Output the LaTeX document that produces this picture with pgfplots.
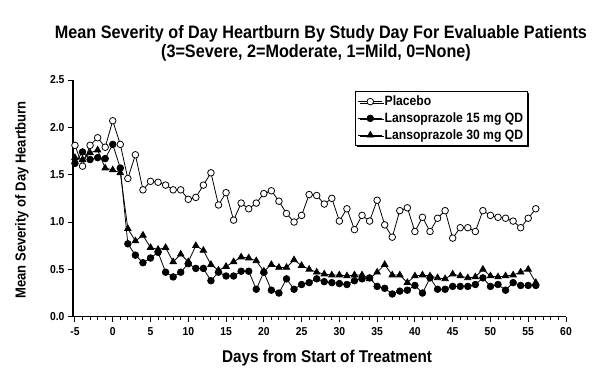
\documentclass[border=0pt]{standalone}
\usepackage{fontspec}
\setmainfont{Liberation Sans}[FakeStretch=0.9]
\usepackage{pgfplots}
\usepackage{pgfplotstable}
\pgfplotsset{compat=1.18}
\usetikzlibrary{shadows}

\pgfplotstableread{
day pla l15 l30
-5 1.81 1.62 1.68
-4 1.59 1.74 1.66
-3 1.81 1.66 1.73
-2 1.89 1.68 1.76
-1 1.79 1.67 1.57
0 2.07 1.82 1.55
1 1.82 1.57 1.52
2 1.46 0.77 0.93
3 1.71 0.65 0.80
4 1.34 0.57 0.86
5 1.43 0.62 0.73
6 1.42 0.68 0.71
7 1.39 0.47 0.73
8 1.34 0.42 0.58
9 1.34 0.47 0.66
10 1.24 0.56 0.58
11 1.26 0.51 0.75
12 1.39 0.51 0.70
13 1.52 0.38 0.55
14 1.18 0.47 0.49
15 1.31 0.43 0.53
16 1.02 0.43 0.58
17 1.20 0.48 0.63
18 1.14 0.48 0.62
19 1.20 0.29 0.59
20 1.30 0.47 0.48
21 1.33 0.28 0.55
22 1.22 0.25 0.52
23 1.09 0.40 0.52
24 1.00 0.29 0.60
25 1.07 0.34 0.54
26 1.29 0.36 0.50
27 1.28 0.40 0.47
28 1.19 0.37 0.45
29 1.25 0.36 0.44
30 1.01 0.35 0.44
31 1.14 0.34 0.43
32 0.92 0.38 0.44
33 1.07 0.40 0.44
34 1.01 0.41 0.40
35 1.23 0.32 0.47
36 0.97 0.30 0.55
37 0.84 0.24 0.44
38 1.12 0.27 0.44
39 1.15 0.28 0.36
40 0.90 0.33 0.43
41 1.05 0.25 0.44
42 0.90 0.41 0.43
43 1.04 0.29 0.41
44 1.12 0.29 0.40
45 0.83 0.32 0.45
46 0.94 0.32 0.43
47 0.94 0.32 0.41
48 0.90 0.34 0.42
49 1.12 0.41 0.50
50 1.07 0.32 0.43
51 1.05 0.34 0.42
52 1.04 0.28 0.43
53 1.01 0.36 0.44
54 0.94 0.33 0.47
55 1.04 0.33 0.50
56 1.14 0.33 0.36
}\datatable

\begin{document}
\begin{tikzpicture}
\begin{axis}[
  name=ax, at={(0,0)}, anchor=south west,
  scale only axis, width=493pt, height=236.7pt,
  xmin=-5.26, xmax=60, ymin=0, ymax=2.5,
  axis x line*=bottom, axis y line*=left,
  axis line style={line width=1.4pt},
  xtick={-5,0,...,60}, minor xtick={-5,-4,...,60},
  ytick={0,0.5,...,2.5},
  tick align=outside, major tick length=5pt, minor tick length=3.5pt,
  every tick/.style={line width=1pt, black},
  /pgf/number format/assume math mode=true,
  yticklabel style={/pgf/number format/.cd, fixed, fixed zerofill, precision=1},
  ticklabel style={font=\bfseries\fontsize{11.5}{13}\selectfont},
  xticklabel style={yshift=-2pt},
  legend style={at={(0.572,0.9535)}, anchor=north west, draw=black, line width=0.9pt,
    fill=white, font=\bfseries\fontsize{13.5}{15}\selectfont, row sep=1.5pt, inner sep=2.5pt,
    drop shadow={shadow xshift=1.5pt, shadow yshift=-1.5pt, fill=black, opacity=1}},
  legend cell align=left,
  legend image code/.code={\draw[mark repeat=2,mark phase=2] plot coordinates {(0cm,0cm) (0.42cm,0cm) (0.84cm,0cm)};},
]
\addplot[black, line width=0.8pt, mark=*, mark size=3.3pt, mark options={fill=white, line width=0.8pt}] table[x=day, y=pla] {\datatable};
\addlegendentry{Placebo}
\addplot[black, line width=0.8pt, mark=*, mark size=3.3pt, mark options={fill=black}] table[x=day, y=l15] {\datatable};
\addlegendentry{Lansoprazole 15 mg QD}
\addplot[black, line width=0.8pt, mark=triangle*, mark size=3.7pt, mark options={fill=black}] table[x=day, y=l30] {\datatable};
\addlegendentry{Lansoprazole 30 mg QD}
\end{axis}
\node[anchor=base, inner sep=0pt, font=\bfseries\fontsize{18}{20}\selectfont] at ([shift={(248pt,278pt)}]ax.south west) {Mean Severity of Day Heartburn By Study Day For Evaluable Patients};
\node[anchor=base, inner sep=0pt, font=\bfseries\fontsize{18}{20}\selectfont] at ([shift={(243pt,259pt)}]ax.south west) {(3=Severe, 2=Moderate, 1=Mild, 0=None)};
\node[anchor=base, font=\bfseries\fontsize{17}{19}\selectfont] at ([shift={(254pt,-45.3pt)}]ax.south west) {Days from Start of Treatment};
\node[anchor=center, rotate=90, font=\bfseries\fontsize{14.5}{16}\selectfont] at ([shift={(-51pt,116.7pt)}]ax.south west) {Mean Severity of Day Heartburn};
\pgfresetboundingbox
\path[use as bounding box] ([shift={(-73pt,-59.3pt)}]ax.south west) rectangle ([shift={(531pt,316.7pt)}]ax.south west);
\end{tikzpicture}
\end{document}
